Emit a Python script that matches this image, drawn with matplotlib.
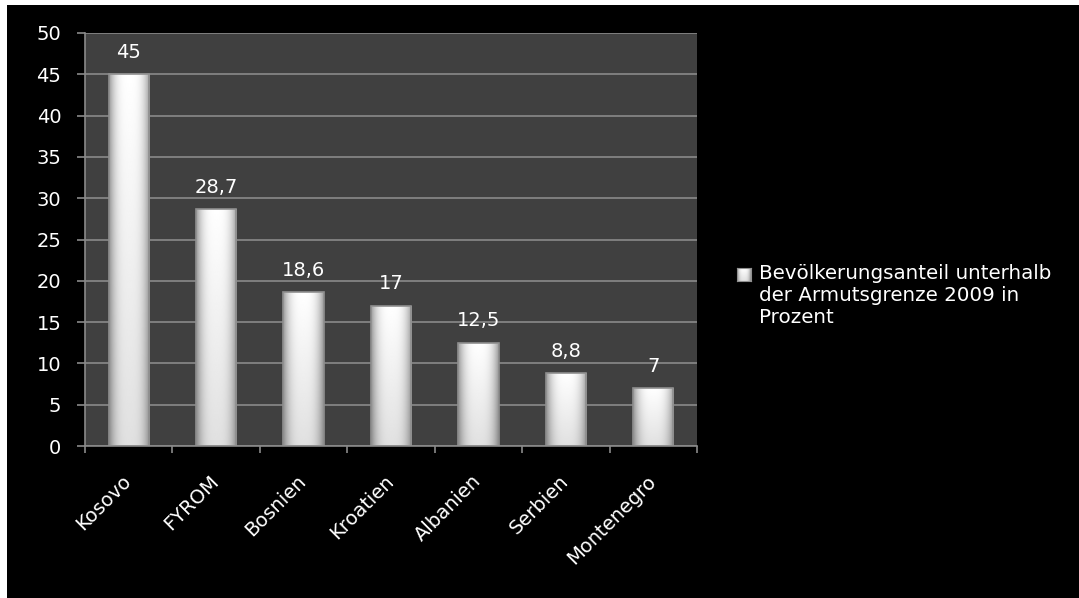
import matplotlib
matplotlib.use("Agg")
import matplotlib.pyplot as plt
import numpy as np
from matplotlib.patches import Rectangle

categories = ["Kosovo", "FYROM", "Bosnien", "Kroatien", "Albanien", "Serbien", "Montenegro"]
values = [45, 28.7, 18.6, 17, 12.5, 8.8, 7]
value_labels = ["45", "28,7", "18,6", "17", "12,5", "8,8", "7"]
legend_label = "Bevölkerungsanteil unterhalb\nder Armutsgrenze 2009 in\nProzent"

plt.rcParams['font.family'] = ['DejaVu Sans']

W, H = 1079, 598
fig = plt.figure(figsize=(W / 100, H / 100), dpi=100, facecolor="black")
# white strips at top and left edge
fig.patches.append(Rectangle((0, 1 - 5 / H), 1, 5 / H, transform=fig.transFigure,
                             facecolor="white", edgecolor="none", zorder=-5))
fig.patches.append(Rectangle((0, 0), 7 / W, 1, transform=fig.transFigure,
                             facecolor="white", edgecolor="none", zorder=-5))

ax = fig.add_axes([85 / W, 1 - 446 / H, (697 - 85) / W, (446 - 33) / H])
ax.set_facecolor("#404040")
ax.set_xticks(np.arange(len(categories) + 1))
ax.set_xticklabels([])
ax.set_yticks(range(0, 51, 5))
ax.yaxis.grid(True, color="#8a8a8a", linewidth=1.2)
ax.set_axisbelow(True)
for s in ["top", "right"]:
    ax.spines[s].set_visible(False)
for s in ["left", "bottom"]:
    ax.spines[s].set_color("#8a8a8a")
    ax.spines[s].set_linewidth(1.2)
ax.tick_params(axis="x", colors="#8a8a8a", length=5, width=1.2)
ax.tick_params(axis="y", colors="#8a8a8a", length=6, width=1.2,
               labelcolor="white", labelsize=14, pad=11)

# gradient for bars: bright centre, grey rims, slightly darker towards bottom
xg = np.linspace(0, 1, 200)
prof = 1 - 0.40 * (np.abs(xg - 0.5) * 2) ** 3
yg = np.linspace(0.88, 1.0, 100)[:, None]
grad2d = np.clip(prof[None, :] * yg, 0, 1)
width = 0.46
centers = np.arange(len(categories)) + 0.5
for i, (c, v, lab) in enumerate(zip(centers, values, value_labels)):
    x0 = c - width / 2
    rect = Rectangle((x0, 0), width, v, facecolor="none", edgecolor="#8f8f8f",
                     linewidth=1.2, zorder=3)
    ax.add_patch(rect)
    im = ax.imshow(grad2d, extent=[x0, x0 + width, 0, v], aspect="auto", cmap="gray",
                   vmin=0, vmax=1, interpolation="bilinear", origin="lower", zorder=2)
    im.set_clip_path(rect)
    ax.text(c, v + 1.5, lab, ha="center", va="bottom", color="white", fontsize=14, zorder=4)
    ax.text(c - 0.08, -3.1, categories[i], rotation=45, ha="right", va="top",
            color="white", fontsize=14, rotation_mode="anchor", clip_on=False)
ax.set_xlim(0, len(categories))
ax.set_ylim(0, 50)

# legend
lax = fig.add_axes([737 / W, 1 - 281 / H, 14 / W, 13 / H])
lax.imshow(grad2d, aspect="auto", cmap="gray", vmin=0, vmax=1, interpolation="bilinear",
           origin="lower")
lax.set_xticks([]); lax.set_yticks([])
for s in lax.spines.values():
    s.set_color("#8f8f8f")
fig.text(759 / W, 1 - 264 / H, legend_label, color="white", fontsize=14.3,
         ha="left", va="top", linespacing=1.2)

fig.savefig("out.png", dpi=100, facecolor=fig.get_facecolor())
